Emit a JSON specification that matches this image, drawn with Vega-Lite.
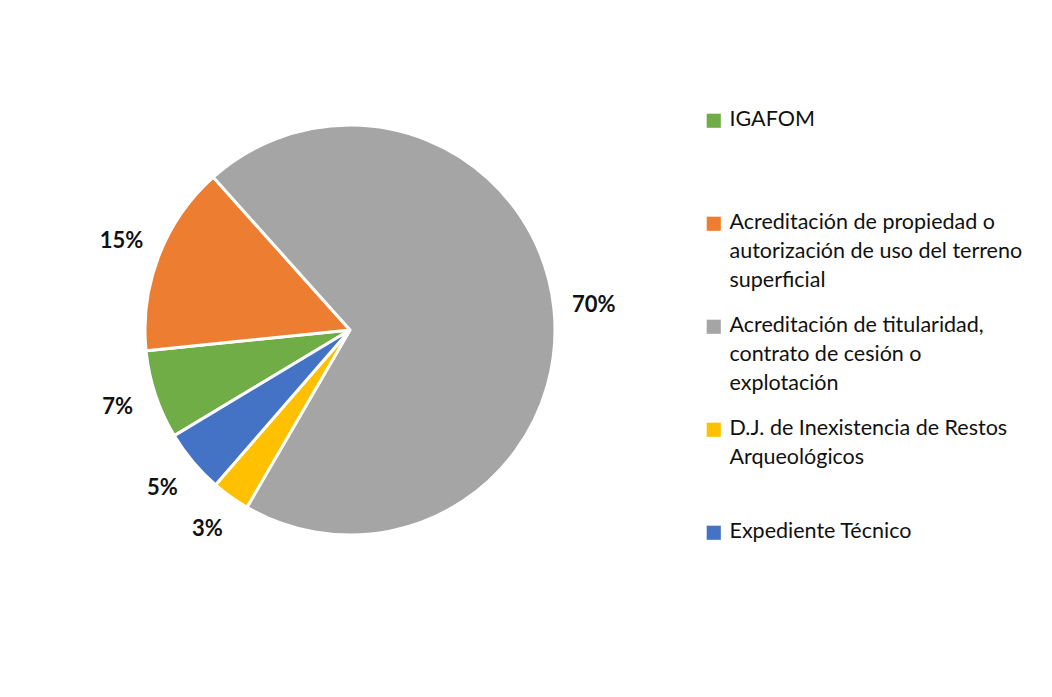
{
  "$schema": "https://vega.github.io/schema/vega-lite/v6.json",
  "width": 700,
  "height": 660,
  "padding": {"left": 0, "top": 0, "right": 10, "bottom": 0},
  "background": "white",
  "config": {
    "view": {"stroke": null},
    "style": {"guide-label": {"lineHeight": 29, "dy": -12}},
    "legend": {
      "labelFont": "Lato",
      "labelFontSize": 21.5,
      "labelColor": "#111111",
      "symbolType": "square",
      "symbolSize": 200,
      "symbolStrokeWidth": 0,
      "rowPadding": 22,
      "gridAlign": "all",
      "labelBaseline": "top",
      "labelOffset": 5,
      "labelLimit": 400
    }
  },
  "data": {
    "values": [
      {"categoria": "IGAFOM", "pct": 0.07, "orden": 1},
      {"categoria": "Acreditación de propiedad o autorización de uso del terreno superficial", "pct": 0.15, "orden": 2},
      {"categoria": "Acreditación de titularidad, contrato de cesión o explotación", "pct": 0.70, "orden": 3},
      {"categoria": "D.J.  de Inexistencia de Restos Arqueológicos", "pct": 0.03, "orden": 4},
      {"categoria": "Expediente Técnico", "pct": 0.05, "orden": 5}
    ]
  },
  "encoding": {
    "theta": {"field": "pct", "type": "quantitative", "stack": true, "scale": {"range": [4.171, 10.454]}},
    "order": {"field": "orden", "type": "quantitative"}
  },
  "layer": [
    {
      "mark": {"type": "arc", "outerRadius": 205, "stroke": "white", "strokeWidth": 3},
      "encoding": {
        "color": {
          "field": "categoria",
          "type": "nominal",
          "scale": {
            "domain": [
              "IGAFOM",
              "Acreditación de propiedad o autorización de uso del terreno superficial",
              "Acreditación de titularidad, contrato de cesión o explotación",
              "D.J.  de Inexistencia de Restos Arqueológicos",
              "Expediente Técnico"
            ],
            "range": ["#70AD47", "#ED7D31", "#A5A5A5", "#FFC000", "#4472C4"]
          },
          "legend": {
            "title": null,
            "orient": "none",
            "legendX": 703,
            "legendY": 110,
            "labelExpr": "datum.label == 'Acreditación de propiedad o autorización de uso del terreno superficial' ? ['Acreditación de propiedad o', 'autorización de uso del terreno', 'superficial'] : datum.label == 'Acreditación de titularidad, contrato de cesión o explotación' ? ['Acreditación de titularidad,', 'contrato de cesión o', 'explotación'] : datum.label == 'D.J.  de Inexistencia de Restos Arqueológicos' ? ['D.J.  de Inexistencia de Restos', 'Arqueológicos'] : datum.label"
          }
        }
      }
    },
    {
      "mark": {"type": "text", "radius": 245, "fontSize": 22, "fontWeight": "bold", "font": "Lato", "color": "#111111"},
      "encoding": {"text": {"field": "pct", "type": "quantitative", "format": ".0%"}}
    }
  ]
}
